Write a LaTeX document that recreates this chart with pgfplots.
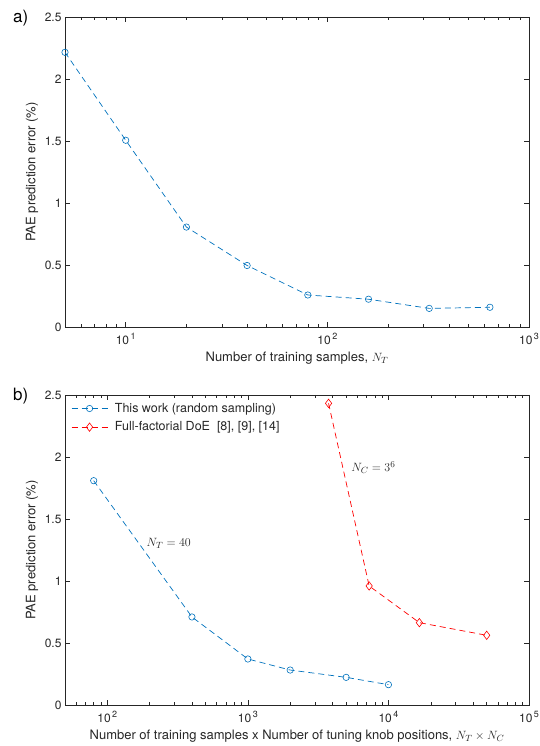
\documentclass[border=0pt]{standalone}
\usepackage{fontspec}
\setmainfont{TeX Gyre Heros}
\usepackage{pgfplots}
\pgfplotsset{compat=1.18}

\definecolor{mblue}{rgb}{0,0.447,0.741}
\definecolor{axgray}{rgb}{0.15,0.15,0.15}

\newcommand{\dec}[1]{10\raisebox{0.75ex}{\fontsize{9}{9}\selectfont\,#1}}

\pgfplotsset{
  paneaxis/.style={
    scale only axis, width=464pt, height=310pt,
    anchor=south west,
    ymin=0, ymax=2.5, ytick={0,0.5,1,1.5,2,2.5},
    yticklabels={0,0.5,1,1.5,2,2.5},
    axis line style={axgray, line width=0.6pt},
    every tick/.style={axgray, line width=0.5pt},
    major tick length=5pt, minor tick length=3pt,
    tick align=inside, tick pos=both,
    yminorticks=false,
    ticklabel style={font=\fontsize{12}{14}\selectfont, text=axgray},
    xticklabel style={yshift=-3pt},
    label style={font=\fontsize{13}{15}\selectfont, text=axgray},
    ylabel={PAE prediction error (\%)},
    every axis y label/.append style={at={(axis description cs:-0.071,0.5)}, anchor=center},
    every axis x label/.append style={at={(axis description cs:0.5,0)}, yshift=-31pt, anchor=center},
  },
  mdash/.style={dash pattern=on 6pt off 4pt, line width=0.7pt},
}

\begin{document}
\begin{tikzpicture}
\path[use as bounding box] (0pt,0pt) rectangle (539pt,746pt);

% (a) error versus number of training samples
\begin{semilogxaxis}[paneaxis, at={(65pt,419pt)},
  xmin=5, xmax=1000,
  xtick={10,100,1000}, xticklabels={\dec{1},\dec{2},\dec{3}},
  minor xtick={6,7,8,9,20,30,40,50,60,70,80,90,200,300,400,500,600,700,800,900},
  xlabel={Number of training samples, $N_T$},
]
\addplot[mblue, mdash, mark=o, mark size=3.2pt, mark options={solid, line width=0.6pt}]
  coordinates {(5,2.215) (10,1.506) (20,0.806) (40,0.496) (80,0.258) (160,0.224) (320,0.150) (640,0.159)};
\end{semilogxaxis}

% (b) error versus total number of simulations
\begin{semilogxaxis}[paneaxis, at={(65pt,41pt)},
  xmin=50, xmax=100000,
  xtick={100,1000,10000,100000}, xticklabels={\dec{2},\dec{3},\dec{4},\dec{5}},
  minor xtick={60,70,80,90,200,300,400,500,600,700,800,900,2000,3000,4000,5000,6000,7000,8000,9000,20000,30000,40000,50000,60000,70000,80000,90000},
  xlabel={Number of training samples x Number of tuning knob positions, $N_T \times N_C$},
  legend cell align=left,
  legend style={at={(0,1)}, anchor=north west, draw=none, fill=none,
    inner xsep=6pt, inner ysep=6pt, row sep=4pt,
    /tikz/every odd column/.append style={column sep=5pt},
    nodes={font=\fontsize{12.5}{14}\selectfont, text=axgray, inner sep=2pt}},
  legend image code/.code={\draw[mark repeat=2, mark phase=2, #1]
    plot coordinates {(0pt,0pt) (18pt,0pt) (36pt,0pt)};},
]
\addplot[mblue, mdash, mark=o, mark size=3.2pt, mark options={solid, line width=0.6pt}]
  coordinates {(80,1.809) (400,0.710) (1000,0.371) (2000,0.282) (5000,0.223) (10000,0.164)};
\addlegendentry{This work (random sampling)}
\addplot[red, mdash, mark=diamond, mark size=4.2pt, mark options={solid, line width=0.6pt}]
  coordinates {(3750,2.433) (7290,0.960) (16600,0.664) (50000,0.562)};
\addlegendentry{Full-factorial DoE\ \ [8], [9], [14]}
\node[anchor=west, font=\fontsize{13}{15}\selectfont, text=axgray] at (axis cs:180,1.30) {$N_T = 40$};
\node[anchor=west, font=\fontsize{13}{15}\selectfont, text=axgray] at (axis cs:5150,1.914) {$N_C = 3^6$};
\end{semilogxaxis}

\node[anchor=west, font=\fontsize{17}{19}\selectfont, inner sep=0pt] at (13pt,728pt) {a)};
\node[anchor=west, font=\fontsize{17}{19}\selectfont, inner sep=0pt] at (13pt,350pt) {b)};
\end{tikzpicture}
\end{document}
